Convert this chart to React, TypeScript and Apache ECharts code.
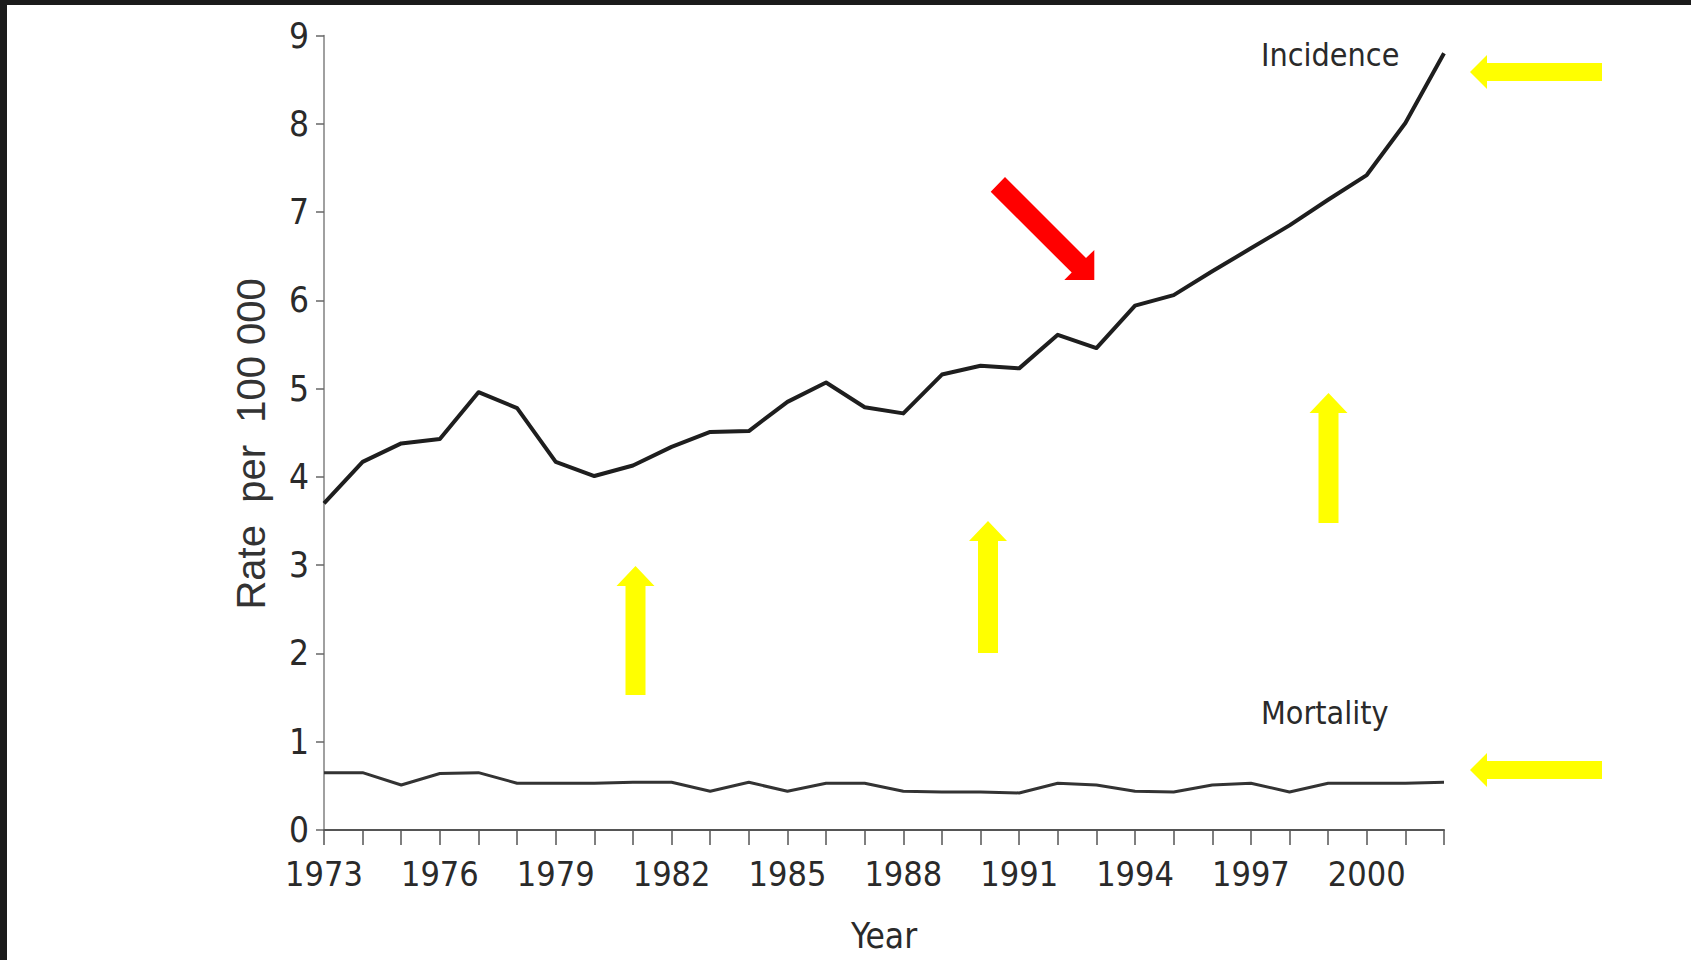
import React, { useEffect, useRef } from "react";
import * as echarts from "echarts";

const years = [
  "1973", "1974", "1975", "1976", "1977", "1978", "1979", "1980", "1981", "1982",
  "1983", "1984", "1985", "1986", "1987", "1988", "1989", "1990", "1991", "1992",
  "1993", "1994", "1995", "1996", "1997", "1998", "1999", "2000", "2001", "2002",
];

const incidence = [
  3.7, 4.17, 4.38, 4.43, 4.96, 4.78, 4.17, 4.01, 4.13, 4.34,
  4.51, 4.52, 4.85, 5.07, 4.79, 4.72, 5.16, 5.26, 5.23, 5.61,
  5.46, 5.94, 6.06, 6.33, 6.59, 6.85, 7.14, 7.42, 8.01, 8.8,
];

const mortality = [
  0.65, 0.65, 0.51, 0.64, 0.65, 0.53, 0.53, 0.53, 0.54, 0.54,
  0.44, 0.54, 0.44, 0.53, 0.53, 0.44, 0.43, 0.43, 0.42, 0.53,
  0.51, 0.44, 0.43, 0.51, 0.53, 0.43, 0.53, 0.53, 0.53, 0.54,
];

const yMin = 0;
const yMax = 9;
const yStep = 1;

const seriesNames = ["Incidence", "Mortality"];
const yAxisTitle = "Rate\u00a0 per\u00a0 100\u00a0000\u00a0\u00a0";
const xAxisTitle = "Year";

const NARROW = "'Liberation Sans Narrow', 'DejaVu Sans Condensed', 'Liberation Sans', sans-serif";
const REGULAR = "'Liberation Sans', Arial, sans-serif";

function upArrow(cx: number, tip: number, bottom: number) {
  const sw = 10; // half shaft width
  const hw = 19; // half head width
  const hh = 20; // head height
  return [
    [cx, tip],
    [cx + hw, tip + hh],
    [cx + sw, tip + hh],
    [cx + sw, bottom],
    [cx - sw, bottom],
    [cx - sw, tip + hh],
    [cx - hw, tip + hh],
  ];
}

function leftArrow(cy: number, tip: number, right: number) {
  const sw = 9;
  const hw = 17;
  const hl = 17;
  return [
    [tip, cy],
    [tip + hl, cy - hw],
    [tip + hl, cy - sw],
    [right, cy - sw],
    [right, cy + sw],
    [tip + hl, cy + sw],
    [tip + hl, cy + hw],
  ];
}

export default function App() {
  const ref = useRef<HTMLDivElement>(null);

  useEffect(() => {
    document.body.style.margin = "0";
    document.body.style.background = "#ffffff";
    if (!ref.current) return;
    const chart = echarts.init(ref.current, undefined, { renderer: "svg" });

    const yellow = "#ffff00";
    const option: any = {
      animation: false,
      backgroundColor: "#ffffff",
      grid: { left: 324, right: 247, top: 35.6, bottom: 130, containLabel: false },
      xAxis: {
        type: "category",
        data: years,
        boundaryGap: false,
        name: xAxisTitle,
        nameLocation: "middle",
        nameGap: 88,
        nameTextStyle: { fontFamily: NARROW, fontSize: 35, color: "#2a2a2a" },
        axisLine: { show: true, lineStyle: { color: "#555555", width: 2 } },
        axisTick: { show: true, interval: 0, length: 15, inside: false, lineStyle: { color: "#555555", width: 1.5 } },
        axisLabel: {
          interval: 2,
          margin: 27,
          fontFamily: NARROW,
          fontSize: 34,
          color: "#2a2a2a",
        },
        splitLine: { show: false },
      },
      yAxis: {
        type: "value",
        min: yMin,
        max: yMax,
        interval: yStep,
        name: yAxisTitle,
        nameLocation: "middle",
        nameGap: 53,
        nameTextStyle: { fontFamily: REGULAR, fontSize: 40, color: "#333333" },
        axisLine: { show: true, lineStyle: { color: "#808080", width: 1.5 } },
        axisTick: { show: true, length: 8, lineStyle: { color: "#666666", width: 1.5 } },
        axisLabel: { margin: 15, fontFamily: NARROW, fontSize: 35, color: "#2a2a2a" },
        splitLine: { show: false },
      },
      series: [
        {
          name: seriesNames[0],
          type: "line",
          data: incidence,
          symbol: "none",
          lineStyle: { color: "#1e1e1e", width: 4, join: "round" },
          z: 3,
        },
        {
          name: seriesNames[1],
          type: "line",
          data: mortality,
          symbol: "none",
          lineStyle: { color: "#333333", width: 3, join: "round" },
          z: 3,
        },
      ],
      graphic: [
        { type: "rect", shape: { x: 0, y: 0, width: 1691, height: 5 }, style: { fill: "#1b1b1b" }, z: 10 },
        { type: "rect", shape: { x: 0, y: 0, width: 7, height: 960 }, style: { fill: "#1b1b1b" }, z: 10 },
        {
          type: "text",
          x: 1261,
          y: 55,
          style: { text: seriesNames[0], fontFamily: NARROW, fontSize: 32, fill: "#2a2a2a", align: "left", verticalAlign: "middle" },
        },
        {
          type: "text",
          x: 1261,
          y: 713,
          style: { text: seriesNames[1], fontFamily: NARROW, fontSize: 32, fill: "#2a2a2a", align: "left", verticalAlign: "middle" },
        },
        { type: "polygon", shape: { points: upArrow(635.5, 566, 695) }, style: { fill: yellow } },
        { type: "polygon", shape: { points: upArrow(988, 521, 653) }, style: { fill: yellow } },
        { type: "polygon", shape: { points: upArrow(1328.5, 393, 523) }, style: { fill: yellow } },
        { type: "polygon", shape: { points: leftArrow(72, 1470, 1602) }, style: { fill: yellow } },
        { type: "polygon", shape: { points: leftArrow(770, 1470, 1602) }, style: { fill: yellow } },
        {
          type: "polygon",
          shape: {
            points: [
              [1005, 177],
              [1086, 258],
              [1094.3, 250],
              [1094.3, 280],
              [1064.3, 280],
              [1071.7, 272.6],
              [990.7, 191.7],
            ],
          },
          style: { fill: "#ff0000" },
        },
      ],
    };

    chart.setOption(option);
    return () => {
      chart.dispose();
    };
  }, []);

  return <div ref={ref} style={{ width: 1691, height: 960, background: "#ffffff" }} />;
}
